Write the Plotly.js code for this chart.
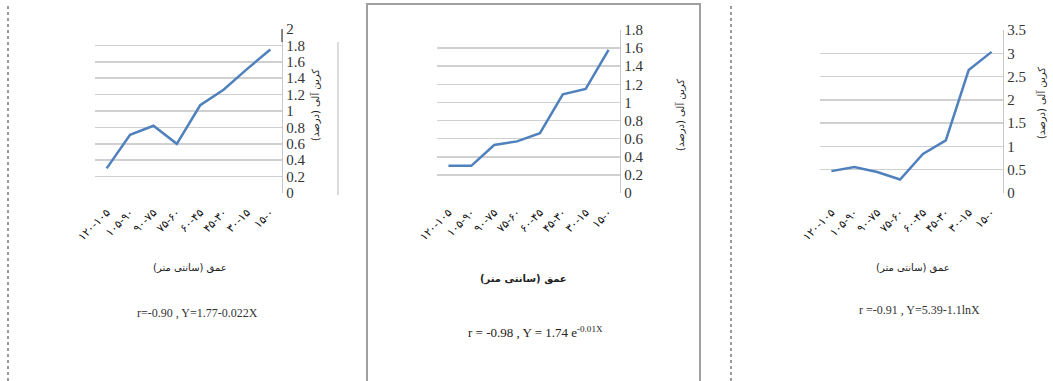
<!DOCTYPE html>
<html>
<head>
<meta charset="utf-8">
<script src="https://cdn.plot.ly/plotly-3.0.1.min.js"></script>
<style>html,body{margin:0;padding:0;background:#fff;}#chart{width:1053px;height:381px;}</style>
</head>
<body>
<div id="chart"></div>
<script>
// Depth classes (cm), deepest on the left as in the reference (visual order, LRM keeps it)
const depthLabels = ["۱۲۰-۱۰۵", "۱۰۵-۹۰", "۹۰-۷۵", "۷۵-۶۰", "۶۰-۴۵", "۴۵-۳۰", "۳۰-۱۵", "۱۵-۰"];
// Organic carbon (%) per panel
const carbonA = [0.30, 0.71, 0.82, 0.60, 1.07, 1.26, 1.51, 1.75];
const carbonB = [0.30, 0.30, 0.53, 0.57, 0.66, 1.09, 1.15, 1.58];
const carbonC = [0.47, 0.56, 0.45, 0.29, 0.84, 1.13, 2.64, 3.03];
const yTitle = "کربن آلی (درصد)";
const xTitle = "عمق (سانتی متر)";
const equations = ["r=-0.90 , Y=1.77-0.022X", "r = -0.98 , Y = 1.74 e<sup>-0.01X</sup>", "r =-0.91 , Y=5.39-1.1lnX"];

const W = 1053, H = 381;
const px = v => v / W, py = v => 1 - v / H;
const lineColor = "#4f81bd";
const fa = "Liberation Serif, DejaVu Sans, serif";
const LRM = "\u200E";
const tickText = depthLabels.map(s => LRM + s.split("-").join(LRM + "-" + LRM) + LRM);

function tr(y, i) {
  const s = i === 1 ? "" : String(i);
  return {x: depthLabels, y: y, type: "scatter", mode: "lines", xaxis: "x" + s, yaxis: "y" + s,
    line: {color: lineColor, width: 2.5}, hoverinfo: "skip", showlegend: false};
}
function xa(d) {
  return {domain: d, type: "category", range: [-0.5, 7.5], tickangle: -45, showgrid: false, zeroline: false,
    showline: false, ticks: "", tickmode: "array", tickvals: depthLabels, ticktext: tickText,
    ticklabelstandoff: 10, tickfont: {family: "DejaVu Sans", size: 11, color: "#111"}, fixedrange: true};
}
function ya(anchor, max, dt, d) {
  return {domain: d, anchor: anchor, side: "right", range: [0, max], dtick: dt, showgrid: true,
    gridcolor: "#d0d0d0", gridwidth: 1.5, zeroline: false, showline: true, linecolor: "#c8c8c8", linewidth: 1.2,
    ticks: "", ticklen: 0, tickfont: {family: fa, size: 15, color: "#333"}, fixedrange: true};
}
function ann(text, x, y, font, angle) {
  const a = {text: text, x: px(x), y: py(y), xref: "paper", yref: "paper", xanchor: "center", yanchor: "middle",
    showarrow: false, font: font};
  if (angle !== undefined) a.textangle = angle;
  return a;
}
const tf = {family: "DejaVu Sans", size: 10, color: "#222"};
const yd = [py(193), py(30)];
const layout = {
  width: W, height: H, margin: {l: 0, r: 0, t: 0, b: 0}, paper_bgcolor: "#fff", plot_bgcolor: "#fff",
  xaxis: xa([px(95), px(282)]), yaxis: ya("x", 2, 0.2, [py(193), py(29)]),
  xaxis2: xa([px(437), px(620)]), yaxis2: ya("x2", 1.8, 0.2, yd),
  xaxis3: xa([px(820), px(1003)]), yaxis3: ya("x3", 3.5, 0.5, yd),
  annotations: [
    ann(yTitle, 315, 105, tf, -90),
    ann(yTitle, 680, 115, tf, -90),
    ann(yTitle, 1041, 103, tf, -90),
    ann(xTitle, 190, 267, tf),
    ann("<b>" + xTitle + "</b>", 523, 279, tf),
    ann(xTitle, 913, 267, tf),
    ann(equations[0], 197, 313, {family: fa, size: 12, color: "#333"}),
    ann(equations[1], 535, 332, {family: fa, size: 13, color: "#222"}),
    ann(equations[2], 919, 310, {family: fa, size: 12, color: "#333"})
  ],
  shapes: [
    {type: "line", xref: "paper", yref: "paper", x0: px(8), x1: px(8), y0: 0, y1: py(3), line: {color: "#9a9a9a", width: 2, dash: "dot"}},
    {type: "line", xref: "paper", yref: "paper", x0: px(338), x1: px(338), y0: py(195), y1: py(42), line: {color: "#d0d0d0", width: 1.5}},
    {type: "line", xref: "paper", yref: "paper", x0: px(282), x1: px(282), y0: py(42), y1: py(29), line: {color: "#666", width: 1.5}},
    {type: "rect", xref: "paper", yref: "paper", x0: px(367), x1: px(700), y0: py(385), y1: py(4), line: {color: "#a0a0a0", width: 2}},
    {type: "line", xref: "paper", yref: "paper", x0: px(731), x1: px(731), y0: 0, y1: py(3), line: {color: "#9a9a9a", width: 2, dash: "dot"}}
  ]
};
Plotly.newPlot("chart", [tr(carbonA, 1), tr(carbonB, 2), tr(carbonC, 3)], layout, {displayModeBar: false, staticPlot: true});
</script>
</body>
</html>
